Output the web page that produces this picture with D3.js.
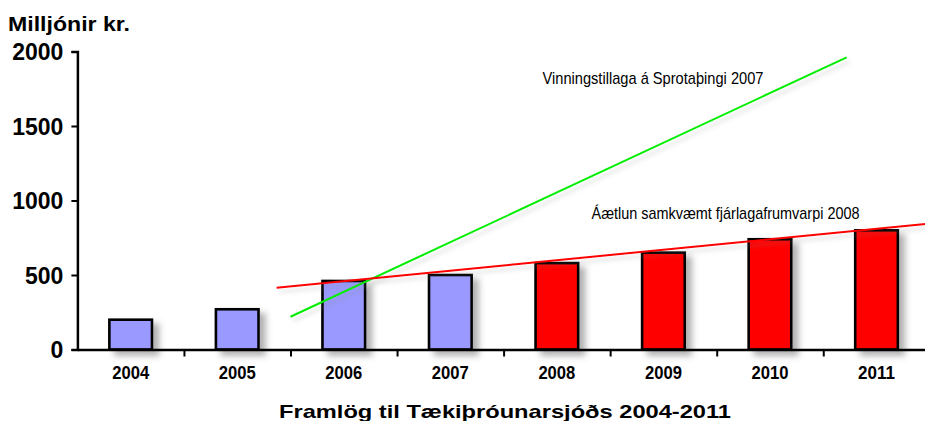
<!DOCTYPE html>
<html lang="is">
<head>
<meta charset="utf-8">
<title>Framlög til Tækiþróunarsjóðs</title>
<script src="https://d3js.org/d3.v7.min.js"></script>
<style>
  body { margin: 0; background: #fff; }
  text { font-family: "Liberation Sans", Arial, sans-serif; fill: #000; }
</style>
</head>
<body>
<script>
// data
var years = ["2004", "2005", "2006", "2007", "2008", "2009", "2010", "2011"];
var amounts = [200, 270, 460, 500, 580, 650, 740, 800];
var kinds = ["actual", "actual", "actual", "actual", "plan", "plan", "plan", "plan"];
var yTicks = [0, 500, 1000, 1500, 2000];

// trend lines: x as fractional year (band centre = year), y in millions
var planLine = [[2005.37, 415], [2011.46, 842]];
var proposalLine = [[2005.50, 220], [2010.72, 1961]];

var yTitle = "Milljónir kr.";
var xTitle = "Framlög til Tækiþróunarsjóðs 2004-2011";
var planLabel = "Áætlun samkvæmt fjárlagafrumvarpi 2008";
var proposalLabel = "Vinningstillaga á Sprotaþingi 2007";

var width = 925, height = 421;
var plotLeft = 77.4, plotRight = 929.8, plotTop = 51.5, plotBottom = 349.5;

var svg = d3.select("body").append("svg")
    .attr("width", width)
    .attr("height", height);

var defs = svg.append("defs");
var sh = defs.append("filter").attr("id", "barShadow")
    .attr("x", "-20%").attr("y", "-20%").attr("width", "160%").attr("height", "160%");
sh.append("feDropShadow").attr("dx", 6).attr("dy", 5).attr("stdDeviation", 3)
    .attr("flood-color", "#555").attr("flood-opacity", 0.45);
var lsh = defs.append("filter").attr("id", "lineShadow")
    .attr("x", "-10%").attr("y", "-10%").attr("width", "130%").attr("height", "130%");
lsh.append("feDropShadow").attr("dx", 3).attr("dy", 4).attr("stdDeviation", 2)
    .attr("flood-color", "#888").attr("flood-opacity", 0.3);

var x = d3.scaleBand().domain(years).range([plotLeft, plotRight]).paddingInner(0.6).paddingOuter(0.3);
var xPos = d3.scaleLinear().domain([2003.5, 2011.5]).range([plotLeft, plotRight]);
var y = d3.scaleLinear().domain([0, 2000]).range([plotBottom, plotTop]);
var color = d3.scaleOrdinal().domain(["actual", "plan"]).range(["#9999ff", "#ff0000"]);

// bars
svg.append("g").selectAll("rect")
  .data(years)
  .enter().append("rect")
    .attr("x", function(d) { return x(d); })
    .attr("y", function(d, i) { return y(amounts[i]); })
    .attr("width", x.bandwidth())
    .attr("height", function(d, i) { return y(0) - y(amounts[i]); })
    .attr("fill", function(d, i) { return color(kinds[i]); })
    .attr("stroke", "#000")
    .attr("stroke-width", 2.6)
    .attr("filter", "url(#barShadow)");

// trend lines
var line = d3.line()
    .x(function(d) { return xPos(d[0]); })
    .y(function(d) { return y(d[1]); });

svg.append("path").datum(proposalLine)
    .attr("d", line).attr("fill", "none")
    .attr("stroke", "#00ee00").attr("stroke-width", 2)
    .attr("filter", "url(#lineShadow)");
svg.append("path").datum(planLine)
    .attr("d", line).attr("fill", "none")
    .attr("stroke", "#ff0000").attr("stroke-width", 2)
    .attr("filter", "url(#lineShadow)");

// y axis
var yAxis = svg.append("g")
    .attr("transform", "translate(" + plotLeft + ",0)")
    .call(d3.axisLeft(y).tickValues(yTicks).tickSize(6).tickPadding(8).tickFormat(d3.format("d")));
yAxis.select(".domain").attr("stroke-width", 2.5);
yAxis.selectAll(".tick line").attr("stroke-width", 2);
yAxis.selectAll(".tick text")
    .style("font-family", "'Liberation Sans', Arial, sans-serif")
    .style("font-size", "23px").style("font-weight", "bold")
    .attr("dy", "0.36em");

// x axis: line with ticks between the years, labels at the centres
var xAxis = svg.append("g")
    .attr("transform", "translate(0," + plotBottom + ")")
    .call(d3.axisBottom(xPos).tickValues(d3.range(2004.5, 2011, 1)).tickSize(7).tickSizeOuter(0).tickFormat(""));
xAxis.select(".domain").attr("stroke-width", 2.5);
xAxis.selectAll(".tick line").attr("stroke-width", 2);

svg.append("g").selectAll("text")
  .data(years)
  .enter().append("text")
    .attr("x", function(d) { return x(d) + x.bandwidth() / 2 - 18.5; })
    .attr("y", 379)
    .attr("textLength", 37)
    .attr("lengthAdjust", "spacingAndGlyphs")
    .style("font-size", "17.5px").style("font-weight", "bold")
    .text(function(d) { return d; });

// titles
svg.append("text")
    .attr("x", 8).attr("y", 30.5)
    .attr("textLength", 122).attr("lengthAdjust", "spacingAndGlyphs")
    .style("font-size", "21px").style("font-weight", "bold")
    .text(yTitle);

svg.append("text")
    .attr("x", 279).attr("y", 418)
    .attr("textLength", 452).attr("lengthAdjust", "spacingAndGlyphs")
    .style("font-size", "18.5px").style("font-weight", "bold")
    .text(xTitle);

// line annotations
svg.append("text")
    .attr("x", 542.5).attr("y", 84)
    .attr("textLength", 221).attr("lengthAdjust", "spacingAndGlyphs")
    .style("font-size", "17px")
    .text(proposalLabel);

svg.append("text")
    .attr("x", 591.5).attr("y", 219)
    .attr("textLength", 268).attr("lengthAdjust", "spacingAndGlyphs")
    .style("font-size", "17px")
    .text(planLabel);
</script>
</body>
</html>
